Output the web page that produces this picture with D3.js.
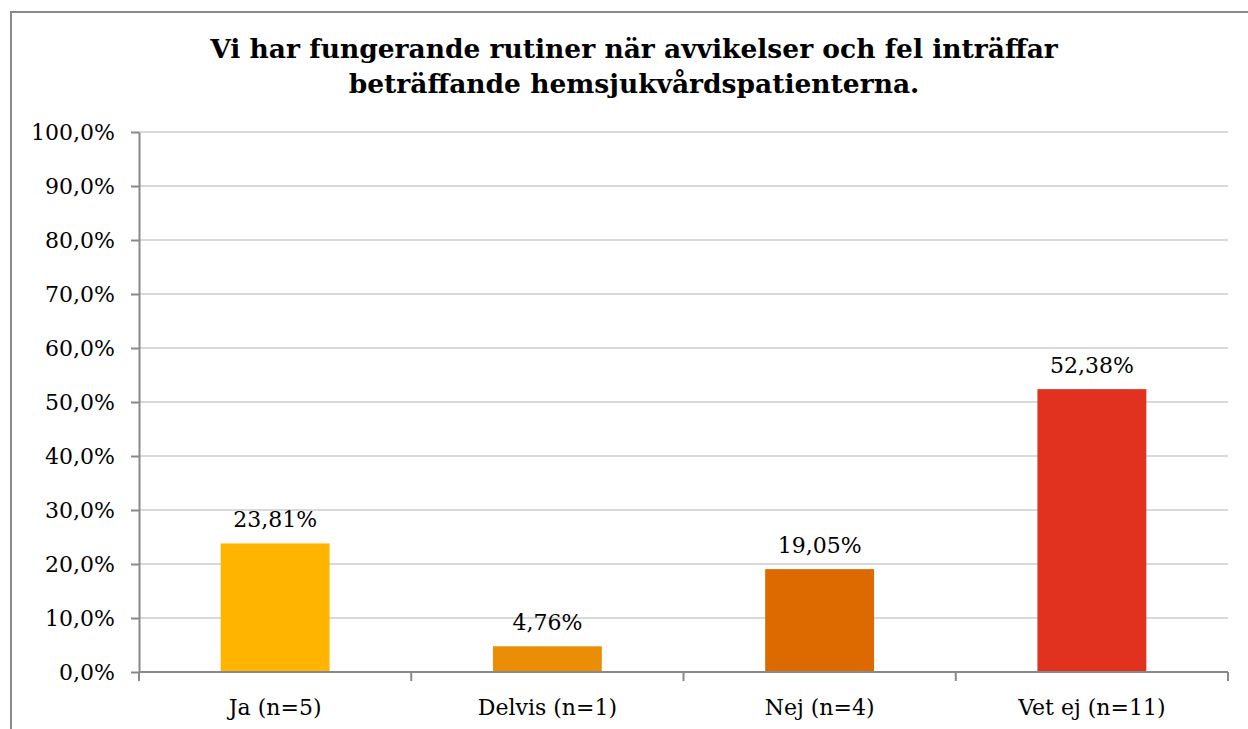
<!DOCTYPE html>
<html>
<meta charset="utf-8">
<style>
body { margin: 0; background: #fff; }
text { font-family: Georgia, "DejaVu Serif", serif; fill: #000; }
.grid line { stroke: #d9d9d9; stroke-width: 2; }
.axis path, .axis line { stroke: #898989; stroke-width: 2; }
</style>
<svg width="1248" height="729"></svg>
<script src="https://d3js.org/d3.v7.min.js"></script>
<script>
var categories = ["Ja (n=5)", "Delvis (n=1)", "Nej (n=4)", "Vet ej (n=11)"];
var values = [23.81, 4.76, 19.05, 52.38];
var colors = ["#ffb400", "#e98e06", "#dc6a00", "#e0321e"];
var yTicks = [0, 10, 20, 30, 40, 50, 60, 70, 80, 90, 100];
var titleLines = ["Vi har fungerande rutiner när avvikelser och fel inträffar",
                  "beträffande hemsjukvårdspatienterna."];

var svg = d3.select("svg");
var plotL = 139, plotR = 1228, plotT = 132, plotB = 672;

// outer frame
svg.append("rect")
    .attr("x", 11).attr("y", 12)
    .attr("width", 1260).attr("height", 740)
    .attr("fill", "none")
    .attr("stroke", "#8a8a8a")
    .attr("stroke-width", 2);

svg.append("text")
    .attr("x", 634)
    .attr("y", 58)
    .attr("text-anchor", "middle")
    .style("font-size", "26.5px")
    .style("font-weight", "bold")
    .selectAll("tspan")
    .data(titleLines)
    .enter().append("tspan")
      .attr("x", 634)
      .attr("dy", function(d, i) { return i ? 35 : 0; })
      .text(function(d) { return d; });

var x = d3.scaleBand().domain(categories).range([plotL, plotR]).paddingInner(0).paddingOuter(0);
var y = d3.scaleLinear().domain([0, 100]).range([plotB, plotT]);
var barW = x.bandwidth() * 0.4;

svg.append("g")
    .attr("class", "grid")
    .selectAll("line")
    .data(yTicks.slice(1))
    .enter().append("line")
      .attr("x1", plotL).attr("x2", plotR)
      .attr("y1", function(d) { return y(d); })
      .attr("y2", function(d) { return y(d); });

svg.selectAll(".bar")
    .data(values)
    .enter().append("rect")
      .attr("class", "bar")
      .attr("x", function(d, i) { return x(categories[i]) + (x.bandwidth() - barW) / 2; })
      .attr("y", function(d) { return y(d); })
      .attr("width", barW)
      .attr("height", function(d) { return plotB - y(d); })
      .attr("fill", function(d, i) { return colors[i]; });

svg.selectAll(".lbl")
    .data(values)
    .enter().append("text")
      .attr("class", "lbl")
      .attr("x", function(d, i) { return x(categories[i]) + x.bandwidth() / 2; })
      .attr("y", function(d) { return y(d) - 16; })
      .attr("text-anchor", "middle")
      .style("font-size", "22px")
      .text(function(d) { return d.toFixed(2).replace(".", ",") + "%"; });

var yAxis = svg.append("g")
    .attr("class", "axis")
    .attr("transform", "translate(" + plotL + ",0)")
    .call(d3.axisLeft(y).tickValues(yTicks).tickSize(8).tickSizeOuter(0)
      .tickFormat(function(d) { return d.toFixed(1).replace(".", ",") + "%"; }));
yAxis.selectAll("text").style("font-size", "22px").attr("x", -24).attr("dy", "0.35em");

// x axis with ticks at band boundaries
var xAxis = svg.append("g")
    .attr("class", "axis")
    .attr("transform", "translate(0," + plotB + ")");
xAxis.append("line").attr("x1", plotL).attr("x2", plotR);
var bounds = categories.map(function(c) { return x(c); }).concat([plotR]);
xAxis.selectAll(".tk")
    .data(bounds)
    .enter().append("line")
      .attr("class", "tk")
      .attr("x1", function(d) { return d; }).attr("x2", function(d) { return d; })
      .attr("y1", 0).attr("y2", 9);
xAxis.selectAll(".lab")
    .data(categories)
    .enter().append("text")
      .attr("x", function(d) { return x(d) + x.bandwidth() / 2; })
      .attr("y", 43)
      .attr("text-anchor", "middle")
      .style("font-size", "22px")
      .text(function(d) { return d; });
</script>
</html>
